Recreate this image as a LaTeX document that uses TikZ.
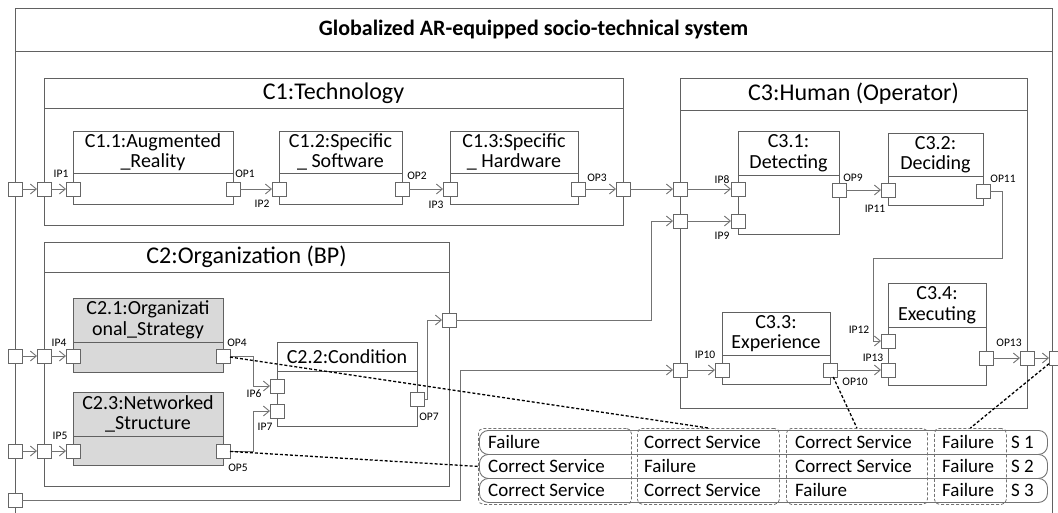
\documentclass[tikz,border=0pt]{standalone}
\usepackage{fontspec}
\setmainfont{Carlito}
\usetikzlibrary{positioning}
\usetikzlibrary{arrows.meta}

\begin{document}
\begin{tikzpicture}[x=1pt,y=-1pt]
            % Define styles
            \tikzstyle{pane} = [draw=black!62,line width=.9pt,inner sep=0pt,outer sep=0pt]
            \tikzstyle{panebar} = [pane,anchor=north west,font=\fontsize{24}{26}\selectfont]
            \tikzstyle{head} = [pane,anchor=north west,align=center,font=\fontsize{20}{20.5}\selectfont]
            \tikzstyle{tinted} = [fill=black!15]
            \tikzstyle{port} = [draw=black!60,line width=.9pt,fill=white,minimum size=14pt,inner sep=0pt,outer sep=0pt]
            \tikzstyle{tag} = [inner sep=0pt,font=\fontsize{11.5}{12}\selectfont]
            \tikzstyle{flow} = [draw=black!55,line width=.9pt,-{Straight Barb[length=6pt,width=10pt]}]
            \tikzstyle{trace} = [draw=black,line width=1.3pt,dash pattern=on 3pt off 2pt]
            \tikzstyle{scen} = [draw=black!55,line width=.9pt,rounded corners=9pt,anchor=north west,minimum width=568pt,minimum height=24pt,inner sep=0pt]
            \tikzstyle{grp} = [draw=black!55,line width=.8pt,dash pattern=on 3pt off 2pt,rounded corners=5pt,anchor=north west,minimum height=76pt,inner sep=0pt]
            \tikzstyle{cell} = [anchor=base west,inner sep=0pt,font=\fontsize{19}{20}\selectfont]
            \useasboundingbox (0,0) rectangle (1058,512);
            \clip (0,0) rectangle (1058,512);
            % Whole system
            	\node (sysbar) [panebar,font=\fontsize{22}{24}\selectfont\bfseries,minimum width=1037pt,minimum height=43pt] at (15,8) {Globalized AR-equipped socio-technical system};
            	\node (sysbody) [pane,below=0pt of sysbar,minimum width=1037pt,minimum height=480pt] {};
            % Containers
            	\node (c1bar) [panebar,minimum width=579pt,minimum height=30pt] at (44,78) {C1:Technology};
            	\node (c1body) [pane,below=0pt of c1bar,minimum width=579pt,minimum height=117pt] {};
            	\node (c2bar) [panebar,minimum width=405pt,minimum height=30pt] at (44,242) {C2:Organization (BP)};
            	\node (c2body) [pane,below=0pt of c2bar,minimum width=405pt,minimum height=214pt] {};
            	\node (c3bar) [panebar,minimum width=347pt,minimum height=32pt] at (680,78) {C3:Human (Operator)};
            	\node (c3body) [pane,below=0pt of c3bar,minimum width=347pt,minimum height=298pt] {};
            % Components
                % Technology
                \node (c11) [head,minimum width=160pt,minimum height=42pt] at (73,131) {C1.1:Augmented\\\_Reality};
                \node (c11b) [pane,below=0pt of c11,minimum width=160pt,minimum height=31pt] {};
                \node (c12) [head,minimum width=123pt,minimum height=42pt] at (279,131) {C1.2:Specific\\\_ Software};
                \node (c12b) [pane,below=0pt of c12,minimum width=123pt,minimum height=31pt] {};
                \node (c13) [head,minimum width=128pt,minimum height=42pt] at (450,131) {C1.3:Specific\\\_ Hardware};
                \node (c13b) [pane,below=0pt of c13,minimum width=128pt,minimum height=31pt] {};
                % Organization
                \node (c21) [head,tinted,minimum width=150pt,minimum height=44pt] at (73,298) {C2.1:Organizati\\onal\_Strategy};
                \node (c21b) [pane,tinted,below=0pt of c21,minimum width=150pt,minimum height=30pt] {};
                \node (c22) [head,minimum width=140pt,minimum height=29pt] at (277,342) {C2.2:Condition};
                \node (c22b) [pane,below=0pt of c22,minimum width=140pt,minimum height=55pt] {};
                \node (c23) [head,tinted,minimum width=150pt,minimum height=44pt] at (73,392) {C2.3:Networked\\\_Structure};
                \node (c23b) [pane,tinted,below=0pt of c23,minimum width=150pt,minimum height=29pt] {};
                % Human
                \node (c31) [head,minimum width=101pt,minimum height=44pt] at (738,131) {C3.1:\\Detecting};
                \node (c31b) [pane,below=0pt of c31,minimum width=101pt,minimum height=59pt] {};
                \node (c32) [head,minimum width=95pt,minimum height=43pt] at (888,133) {C3.2:\\Deciding};
                \node (c32b) [pane,below=0pt of c32,minimum width=95pt,minimum height=29pt] {};
                \node (c33) [head,minimum width=108pt,minimum height=43pt] at (722,312) {C3.3:\\Experience};
                \node (c33b) [pane,below=0pt of c33,minimum width=108pt,minimum height=29pt] {};
                \node (c34) [head,minimum width=98pt,minimum height=44pt] at (888,283) {C3.4:\\Executing};
                \node (c34b) [pane,below=0pt of c34,minimum width=98pt,minimum height=58pt] {};
            % Ports
                % System boundary
                \node (p0a) [port] at (15,189) {};
                \node (p0b) [port] at (15,356) {};
                \node (p0c) [port] at (15,451) {};
                \node (p0d) [port] at (15,500) {};
                \node (gout) [port] at (1056,358) {};
                % Container boundaries
                \node (c1in) [port] at (44,189) {};
                \node (c1out) [port] at (623,189) {};
                \node (c2in4) [port] at (44,356) {};
                \node (c2in5) [port] at (44,451) {};
                \node (c2out) [port] at (449,320) {};
                \node (c3in8) [port] at (680,189) {};
                \node (c3in9) [port] at (680,221) {};
                \node (c3in10) [port] at (680,370) {};
                \node (c3out) [port] at (1027,358) {};
                % Component ports
                \node (ip1) [port] at (73,189) {};
                \node (op1) [port] at (233,189) {};
                \node (ip2) [port] at (279,189) {};
                \node (op2) [port] at (402,189) {};
                \node (ip3) [port] at (450,189) {};
                \node (op3) [port] at (578,189) {};
                \node (ip4) [port] at (73,356) {};
                \node (op4) [port] at (223,356) {};
                \node (ip5) [port] at (73,451) {};
                \node (op5) [port] at (223,451) {};
                \node (ip6) [port] at (277,386) {};
                \node (ip7) [port] at (277,411) {};
                \node (op7) [port] at (417,399) {};
                \node (ip8) [port] at (738,189) {};
                \node (ip9) [port] at (738,221) {};
                \node (op9) [port] at (839,190) {};
                \node (ip10) [port] at (722,370) {};
                \node (op10) [port] at (830,370) {};
                \node (ip11) [port] at (888,190) {};
                \node (op11) [port] at (983,191) {};
                \node (ip12) [port] at (888,341) {};
                \node (ip13) [port] at (888,370) {};
                \node (op13) [port] at (986,358) {};
            % Port names
                \node (tip1) [tag] at (61,174) {IP1};
                \node (top1) [tag] at (245,174) {OP1};
                \node (tip2) [tag] at (262,204) {IP2};
                \node (top2) [tag] at (417,176) {OP2};
                \node (tip3) [tag] at (436,205) {IP3};
                \node (top3) [tag] at (597,178) {OP3};
                \node (tip4) [tag] at (59,343) {IP4};
                \node (top4) [tag] at (237,343) {OP4};
                \node (tip5) [tag] at (60,436) {IP5};
                \node (top5) [tag] at (238,468) {OP5};
                \node (tip6) [tag] at (254,394) {IP6};
                \node (tip7) [tag] at (265,427) {IP7};
                \node (top7) [tag] at (429,417) {OP7};
                \node (tip8) [tag] at (722,180) {IP8};
                \node (tip9) [tag] at (722,236) {IP9};
                \node (top9) [tag] at (853,178) {OP9};
                \node (tip10) [tag] at (705,355) {IP10};
                \node (top10) [tag] at (855,382) {OP10};
                \node (tip11) [tag] at (875,209) {IP11};
                \node (top11) [tag] at (1003,179) {OP11};
                \node (tip12) [tag] at (859,330) {IP12};
                \node (tip13) [tag] at (873,358) {IP13};
                \node (top13) [tag] at (1009,343) {OP13};
            % Bends
                \coordinate (k6) at (253,386);
                \coordinate (k7) at (253,411);
                \coordinate (k8) at (427,320);
                \coordinate (k9) at (651,221);
                \coordinate (k10) at (460,370);
                \coordinate (k11a) at (1002,258);
                \coordinate (k11b) at (873,258);
            % Flows
                % Technology chain
                \draw [flow] (p0a) -- (c1in);
                \draw [flow] (c1in) -- (ip1);
                \draw [flow] (op1) -- (ip2);
                \draw [flow] (op2) -- (ip3);
                \draw [flow] (op3) -- (c1out);
                \draw [flow] (c1out) -- (c3in8);
                % Organization chain
                \draw [flow] (p0b) -- (c2in4);
                \draw [flow] (c2in4) -- (ip4);
                \draw [flow] (p0c) -- (c2in5);
                \draw [flow] (c2in5) -- (ip5);
                \draw [flow] (op4) -| (k6) -- (ip6);
                \draw [flow] (op5) -| (k7) -- (ip7);
                \draw [flow] (op7) -| (k8) -- (c2out);
                \draw [flow] (c2out) -| (k9) -- (c3in9);
                \draw [flow] (p0d) -| (k10) -- (c3in10);
                % Human chain
                \draw [flow] (c3in8) -- (ip8);
                \draw [flow] (c3in9) -- (ip9);
                \draw [flow] (c3in10) -- (ip10);
                \draw [flow] (op9) -- (ip11);
                \draw [flow] (op11) -| (k11a) -- (k11b) |- (ip12);
                \draw [flow] (op10) -- (ip13);
                \draw [flow] (op13) -- (c3out);
                \draw [flow] (c3out) -- (gout);
            % Scenario table
                \node (s1) [scen] at (479,430) {};
                \node (s2) [scen] at (479,454) {};
                \node (s3) [scen] at (479,478) {};
                \node (col1) [grp,minimum width=153pt] at (478,428) {};
                \node (col2) [grp,minimum width=142pt] at (637,428) {};
                \node (col3) [grp,minimum width=141pt] at (786,428) {};
                \node (col4) [grp,minimum width=72pt] at (934,428) {};
                % Row S 1
                \node (s1a) [cell] at (488,448) {Failure};
                \node (s1b) [cell] at (644,448) {Correct Service};
                \node (s1c) [cell] at (795,448) {Correct Service};
                \node (s1d) [cell] at (942,448) {Failure};
                \node (s1n) [cell] at (1011,448) {S 1};
                % Row S 2
                \node (s2a) [cell] at (488,472) {Correct Service};
                \node (s2b) [cell] at (644,472) {Failure};
                \node (s2c) [cell] at (795,472) {Correct Service};
                \node (s2d) [cell] at (942,472) {Failure};
                \node (s2n) [cell] at (1011,472) {S 2};
                % Row S 3
                \node (s3a) [cell] at (488,496) {Correct Service};
                \node (s3b) [cell] at (644,496) {Correct Service};
                \node (s3c) [cell] at (795,496) {Failure};
                \node (s3d) [cell] at (942,496) {Failure};
                \node (s3n) [cell] at (1011,496) {S 3};
            % Failure traces
                \draw [trace] (op4) -- (col2.north);
                \draw [trace] (op5) -- (col1.west);
                \draw [trace] (op10) -- (col3.north);
                \draw [trace] (gout) -- (col4.north);
\end{tikzpicture}
\end{document}
